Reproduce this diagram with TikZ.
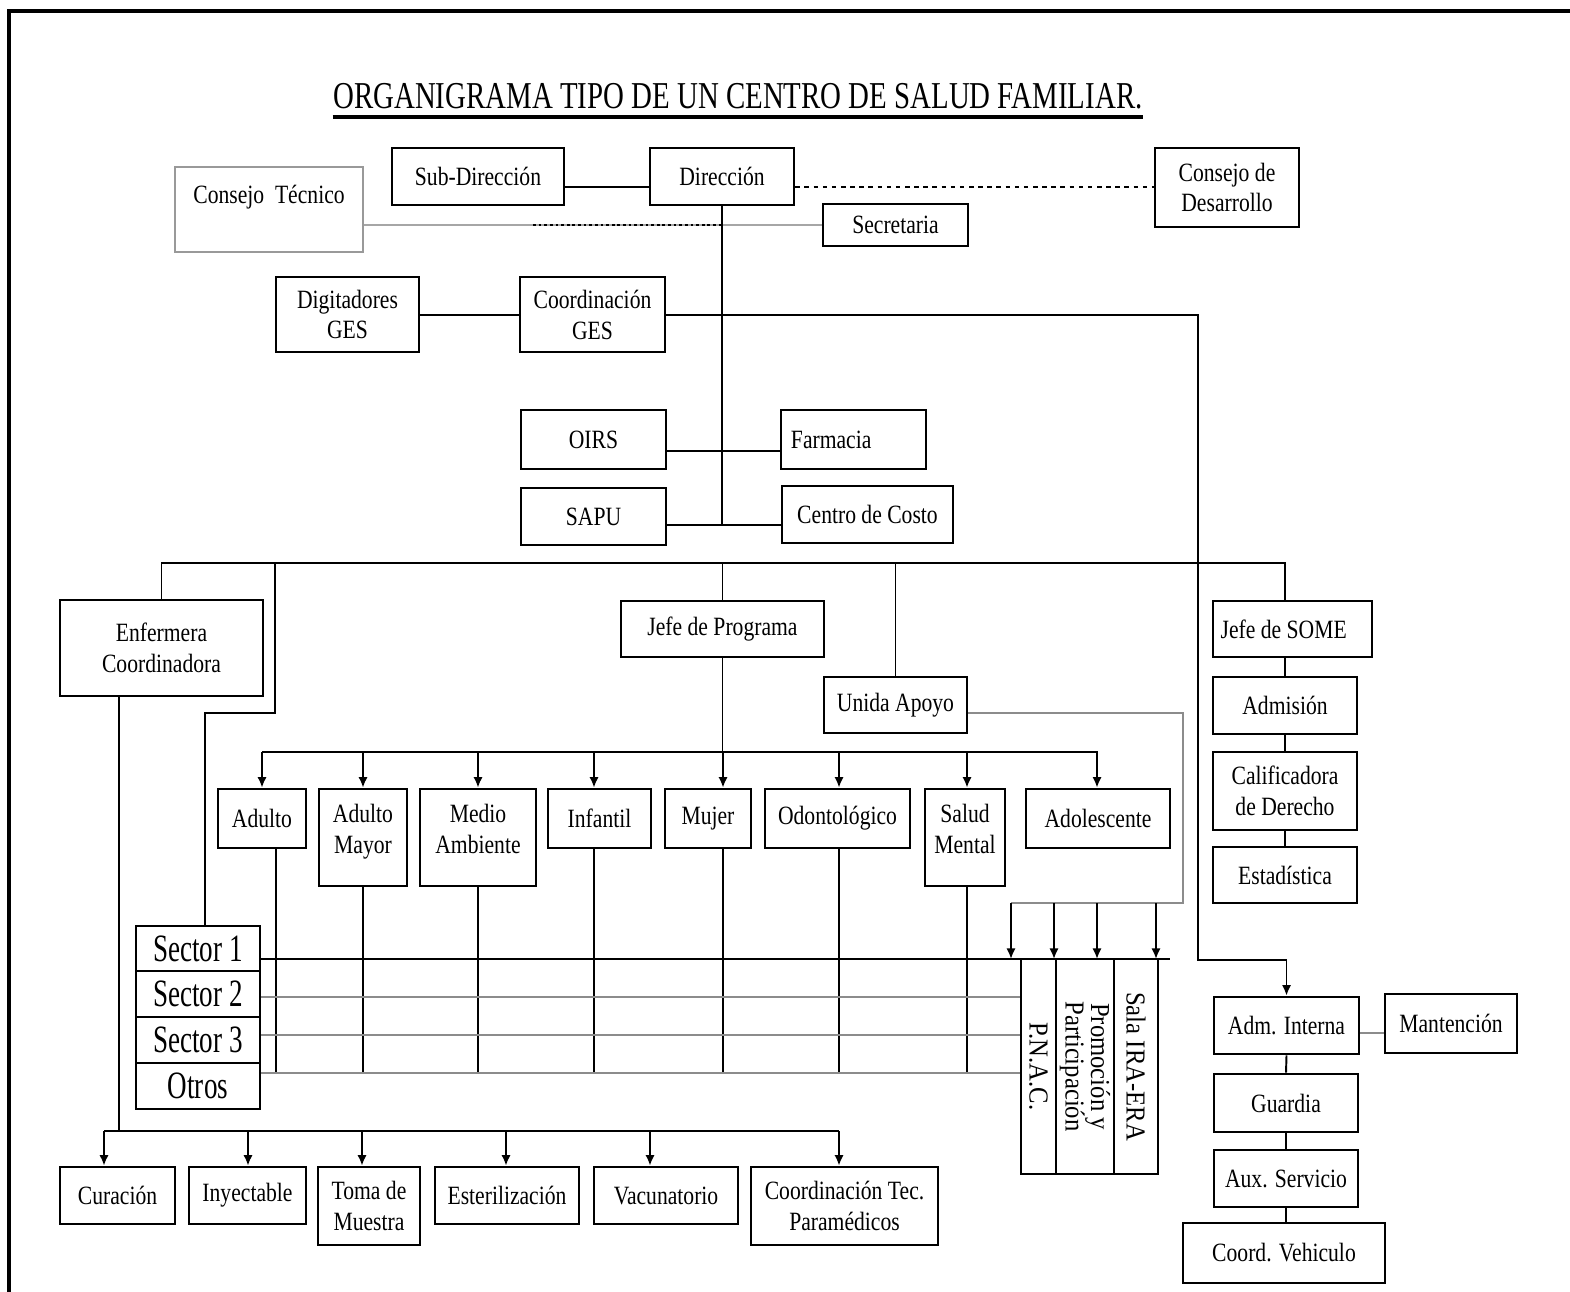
\documentclass[tikz,border=0pt]{standalone}
\usepackage{fontspec}
\setmainfont{Liberation Serif}[FakeStretch=0.82]
\newfontfamily\titlefont{Liberation Serif}[FakeStretch=0.76]
\newfontfamily\sectorfont{Liberation Serif}[FakeStretch=0.7]
\newfontfamily\vertfont{Liberation Serif}[FakeStretch=0.9]
\usepackage{tikz}
\usetikzlibrary{positioning,arrows.meta}

\tikzset{
  box/.style={draw,line width=0.75pt,inner sep=0pt,align=center,
    font=\fontsize{7.5}{8.8}\selectfont},
  sz/.style 2 args={minimum width=#1*0.01cm,minimum height=#2*0.01cm},
  link/.style={line width=0.55pt},
  glink/.style={line width=0.8pt,draw=black!45},
  sectorbox/.style={box,font=\sectorfont\fontsize{11}{12}\selectfont},
  vertbox/.style={box,rotate=-90,font=\vertfont\fontsize{7.8}{7.2}\selectfont},
}

\begin{document}
\begin{tikzpicture}[x=0.01cm,y=-0.01cm,>={Latex[length=3pt,width=2.6pt]}]
  \useasboundingbox (0,0) rectangle (1570,1292);
  \draw[line width=1pt] (1570,11) -- (9,11) -- (9,1292);

  \node[inner sep=0pt,font=\titlefont\fontsize{10.8}{12}\selectfont] (title) at (738,96)
    {ORGANIGRAMA TIPO DE UN CENTRO DE SALUD FAMILIAR.};
  \draw[line width=1.2pt] ([yshift=-2.5pt]title.base west) -- ([yshift=-2.5pt]title.base east);

  % direccion
  \node[box,sz={188}{85},draw=black!40] (ct) at (269,209.5) {Consejo\ \ Técnico\\\mbox{}};
  \node[box,sz={172}{57}] (sub) at (478,176.5) {Sub-Dirección};
  \node[box,sz={144}{57}] (dir) at (722,176.5) {Dirección};
  \node[box,sz={144}{79}] (cdes) at (1227,187.5) {Consejo de\\Desarrollo};
  \node[box,sz={145}{42}] (sec) at (895.5,225) {Secretaria};
  \node[box,sz={143}{75}] (dig) at (347.5,314.5) {Digitadores\\GES};
  \node[box,sz={145}{75}] (cges) at (592.5,314.5) {Coordinación\\GES};
  \node[box,sz={145}{59}] (oirs) at (593.5,439.5) {OIRS};
  \node[box,sz={145}{59},text width=1.25cm,align=left] (farm) at (853.5,439.5) {Farmacia};
  \node[box,sz={145}{57}] (sapu) at (593.5,516.5) {SAPU};
  \node[box,sz={171}{57}] (cc) at (867.5,514.5) {Centro de Costo};

  % jefaturas
  \node[box,sz={203}{96}] (enf) at (161.5,648) {Enfermera\\Coordinadora};
  \node[box,sz={203}{56}] (jp) at (722.5,629) {Jefe de Programa};
  \node[box,sz={143}{56}] (ua) at (895.5,705) {Unida Apoyo};
  \node[box,sz={159}{56}] (jsome) at (1292.5,629) {Jefe de SOME\hspace*{5pt}};
  \node[box,sz={144}{57}] (adm) at (1285,705.5) {Admisión};
  \node[box,sz={144}{78}] (cal) at (1285,791) {Calificadora\\de Derecho};
  \node[box,sz={144}{56}] (est) at (1285,875) {Estadística};

  % programas
  \node[box,sz={88}{59}] (adu) at (262,818.5) {Adulto};
  \node[box,sz={88}{97}] (am) at (363,837.5) {Adulto\\Mayor\\[-4pt]\mbox{}};
  \node[box,sz={116}{97}] (ma) at (478,837.5) {Medio\\Ambiente\\[-4pt]\mbox{}};
  \node[box,sz={103}{59}] (inf) at (599.5,818.5) {Infantil};
  \node[box,sz={86}{59}] (muj) at (708,818.5) {Mujer};
  \node[box,sz={145}{59}] (odo) at (837.5,818.5) {Odontológico};
  \node[box,sz={80}{97}] (sm) at (965,837.5) {Salud\\Mental\\[-4pt]\mbox{}};
  \node[box,sz={144}{59}] (ado) at (1098,818.5) {Adolescente};

  % sectores
  \node[sectorbox,sz={124}{45}] (s1) at (198,948.5) {Sector 1};
  \node[sectorbox,sz={124}{46}] (s2) at (198,994) {Sector 2};
  \node[sectorbox,sz={124}{46}] (s3) at (198,1040) {Sector 3};
  \node[sectorbox,sz={124}{46}] (otros) at (198,1086) {Otros};

  \node[vertbox,sz={215}{35}] (pnac) at (1038.5,1066.5) {P.N.A.C.};
  \node[vertbox,sz={215}{58}] (promo) at (1085,1066.5) {Promoción y\\Participación};
  \node[vertbox,sz={215}{44}] (sala) at (1136,1066.5) {Sala IRA-ERA};

  % administracion interna
  \node[box,sz={145}{57}] (admi) at (1286.5,1025.5) {Adm. Interna};
  \node[box,sz={132}{59}] (mant) at (1451,1023.5) {Mantención};
  \node[box,sz={144}{58}] (guard) at (1286,1103) {Guardia};
  \node[box,sz={144}{57}] (aux) at (1286,1178.5) {Aux. Servicio};
  \node[box,sz={202}{60}] (veh) at (1284,1253) {Coord. Vehiculo};

  % enfermeria
  \node[box,sz={115}{57}] (cur) at (117.5,1195.5) {Curación};
  \node[box,sz={117}{57}] (iny) at (247.5,1195.5) {Inyectable};
  \node[box,sz={102}{78}] (toma) at (369,1206) {Toma de\\Muestra};
  \node[box,sz={144}{57}] (ester) at (507,1195.5) {Esterilización};
  \node[box,sz={144}{57}] (vac) at (666,1195.5) {Vacunatorio};
  \node[box,sz={187}{78}] (ctp) at (844.5,1206) {Coordinación Tec.\\Paramédicos};

  \coordinate (lvdir) at (0,187);
  \coordinate (lvges) at (0,315);
  \coordinate (lvfarm) at (0,451);
  \coordinate (lvsapu) at (0,525);
  \coordinate (bus) at (0,563);
  \coordinate (lvua) at (0,713);
  \coordinate (progbus) at (0,752);
  \coordinate (uabus) at (0,903);
  \coordinate (lvs1) at (0,959);
  \coordinate (lvs2) at (0,997);
  \coordinate (lvs3) at (0,1035);
  \coordinate (lvotros) at (0,1073);
  \coordinate (lvmant) at (0,1033);
  \coordinate (botbus) at (0,1131);
  \coordinate (ctdot) at (533,225);
  \coordinate (gesR) at (1198,315);
  \coordinate (gesD) at (1198,960);
  \coordinate (busR) at (1285,563);
  \coordinate (sctop) at (275,563);
  \coordinate (scbend) at (205,713);
  \coordinate (uaR) at (1183,713);
  \coordinate (uaL) at (1011,903);
  \coordinate (s1end) at (1170,959);
  \coordinate (enfdrop) at (119,0);

  \draw[link] (sub.east |- lvdir) -- (dir.west |- lvdir);
  \draw[link,dash pattern=on 1.3pt off 1.3pt] (dir.east |- lvdir) -- (cdes.west |- lvdir);
  \draw[glink,draw=black!35,line width=0.6pt] (ct.east |- sec.west) -- (sec.west);
  \draw[link,dash pattern=on 0.8pt off 0.8pt] (ctdot) -- (ctdot -| dir.south);
  \draw[link] (dig.east |- lvges) -- (cges.west |- lvges);
  \draw[link,->] (cges.east |- lvges) -- (gesR) -- (gesD) -| (admi.north);
  \draw[link] (dir.south) -- (dir.south |- lvsapu);
  \draw[link] (oirs.east |- lvfarm) -- (farm.west |- lvfarm);
  \draw[link] (sapu.east |- lvsapu) -- (cc.west |- lvsapu);

  \draw[link] (enf.north) -- (enf.north |- bus) -- (busR) -- (busR |- jsome.north);
  \draw[link] (jp.north |- bus) -- (jp.north);
  \draw[link] (ua.north |- bus) -- (ua.north);
  \draw[link] (sctop) |- (scbend) -- (scbend |- s1.north);
  \draw[link] (adm.north |- jsome.south) -- (adm.north);
  \draw[link] (adm.south) -- (cal.north);
  \draw[link] (cal.south) -- (est.north);

  \draw[link] (jp.south) -- (jp.south |- progbus);
  \draw[link] (adu.north |- progbus) -- (ado.north |- progbus);
  \foreach \n/\x in {adu/262,am/363,ma/478,inf/594,muj/723,odo/839,sm/967,ado/1097}
    \draw[link,->] (\x,0|-progbus) -- (\x,0|-\n.north);
  \foreach \n/\x in {adu/276,am/363,ma/478,inf/594,muj/723,odo/839,sm/967}
    \draw[link] (\x,0|-\n.south) -- (\x,0|-lvotros);

  \draw[glink] (ua.east |- lvua) -- (uaR) |- (uaL);
  \foreach \x in {1011,1054,1097,1156}
    \draw[link,->] (\x,0|-uabus) -- (\x,0|-lvs1);

  \draw[link] (s1.east |- lvs1) -- (s1end);
  \draw[glink] (s2.east |- lvs2) -- (pnac.south |- lvs2);
  \draw[glink] (s3.east |- lvs3) -- (pnac.south |- lvs3);
  \draw[glink] (otros.east |- lvotros) -- (pnac.south |- lvotros);

  \draw[link] (enfdrop |- enf.south) -- (enfdrop |- botbus);
  \draw[link] (104,0|-botbus) -- (839,0|-botbus);
  \foreach \n/\x in {cur/104,iny/248,toma/362,ester/506,vac/650,ctp/839}
    \draw[link,->] (\x,0|-botbus) -- (\x,0|-\n.north);

  \draw[glink] (admi.east |- lvmant) -- (mant.west |- lvmant);
  \draw[link] (admi.south) -- (guard.north);
  \draw[link] (guard.south) -- (aux.north);
  \draw[link] (aux.south) -- (aux.south |- veh.north);
\end{tikzpicture}
\end{document}
